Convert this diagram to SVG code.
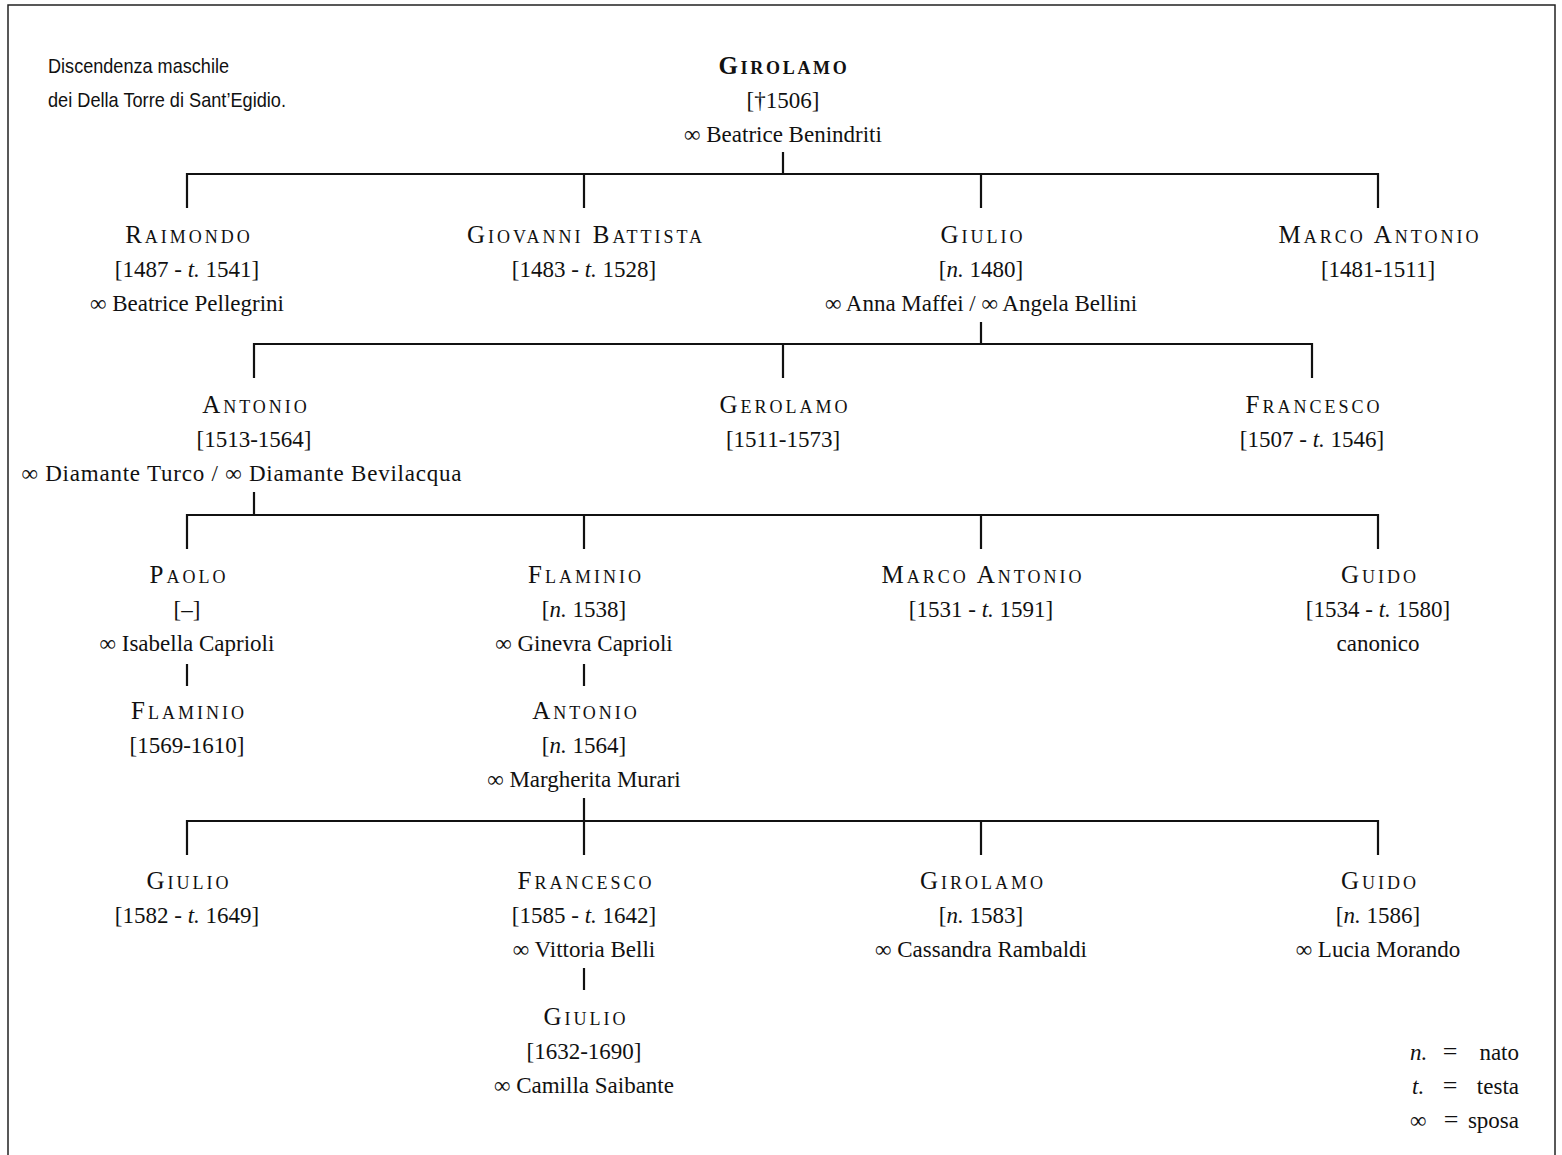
<svg xmlns="http://www.w3.org/2000/svg" width="1562" height="1155" viewBox="0 0 1562 1155">
<style>
text{font-family:"Liberation Serif","DejaVu Serif",serif;fill:#111;text-anchor:middle;font-size:23px}
.nm{font-size:25px;font-variant:small-caps;letter-spacing:3px}
.b{font-weight:bold;letter-spacing:2.7px}
.i{font-style:italic}
.sans{font-family:"Liberation Sans","DejaVu Sans",sans-serif;font-size:21px;text-anchor:start}
.ln{stroke:#111;stroke-width:2.2;fill:none}
.lg{text-anchor:start}
.lge{text-anchor:end}
.eq{font-size:26px}
</style>
<rect x="8" y="5" width="1547" height="1170" fill="#fff" stroke="#222" stroke-width="1.5"/>
<g id="caption">
<text class="sans" x="48" y="73" textLength="181" lengthAdjust="spacingAndGlyphs">Discendenza maschile</text>
<text class="sans" x="48" y="107" textLength="238" lengthAdjust="spacingAndGlyphs">dei Della Torre di Sant’Egidio.</text>
</g>
<g id="connectors" class="ln">
<path d="M783 152V174M187 208V174H1378V208M584 174V208M981 174V208"/>
<path d="M981 322V344M254 378V344H1312V378M783 344V378"/>
<path d="M254 492V515M187 549V515H1378V549M584 515V549M981 515V549"/>
<path d="M187 664V686M584 664V686"/>
<path d="M584 798V855M187 855V821H1378V855M981 821V855"/>
<path d="M584 968V990"/>
</g>
<g id="n-girolamo"><text class="nm b" x="784" y="74">Girolamo</text><text x="783" y="108">[†1506]</text><text x="783" y="142">∞ Beatrice Benindriti</text></g>
<g id="n-raimondo"><text class="nm" x="189" y="243">Raimondo</text><text x="187" y="277">[1487 - <tspan class="i">t.</tspan> 1541]</text><text x="187" y="311">∞ Beatrice Pellegrini</text></g>
<g id="n-giovanni"><text class="nm" x="586" y="243">Giovanni Battista</text><text x="584" y="277">[1483 - <tspan class="i">t.</tspan> 1528]</text></g>
<g id="n-giulio1"><text class="nm" x="983" y="243">Giulio</text><text x="981" y="277">[<tspan class="i">n.</tspan> 1480]</text><text x="981" y="311">∞ Anna Maffei / ∞ Angela Bellini</text></g>
<g id="n-marcoantonio1"><text class="nm" x="1380" y="243">Marco Antonio</text><text x="1378" y="277">[1481-1511]</text></g>
<g id="n-antonio1"><text class="nm" x="256" y="413">Antonio</text><text x="254" y="447">[1513-1564]</text><text x="241.5" y="481" textLength="440">∞ Diamante Turco / ∞ Diamante Bevilacqua</text></g>
<g id="n-gerolamo"><text class="nm" x="785" y="413">Gerolamo</text><text x="783" y="447">[1511-1573]</text></g>
<g id="n-francesco1"><text class="nm" x="1314" y="413">Francesco</text><text x="1312" y="447">[1507 - <tspan class="i">t.</tspan> 1546]</text></g>
<g id="n-paolo"><text class="nm" x="189" y="583">Paolo</text><text x="187" y="617">[–]</text><text x="187" y="651">∞ Isabella Caprioli</text></g>
<g id="n-flaminio1"><text class="nm" x="586" y="583">Flaminio</text><text x="584" y="617">[<tspan class="i">n.</tspan> 1538]</text><text x="584" y="651">∞ Ginevra Caprioli</text></g>
<g id="n-marcoantonio2"><text class="nm" x="983" y="583">Marco Antonio</text><text x="981" y="617">[1531 - <tspan class="i">t.</tspan> 1591]</text></g>
<g id="n-guido1"><text class="nm" x="1380" y="583">Guido</text><text x="1378" y="617">[1534 - <tspan class="i">t.</tspan> 1580]</text><text x="1378" y="651">canonico</text></g>
<g id="n-flaminio2"><text class="nm" x="189" y="719">Flaminio</text><text x="187" y="753">[1569-1610]</text></g>
<g id="n-antonio2"><text class="nm" x="586" y="719">Antonio</text><text x="584" y="753">[<tspan class="i">n.</tspan> 1564]</text><text x="584" y="787">∞ Margherita Murari</text></g>
<g id="n-giulio2"><text class="nm" x="189" y="889">Giulio</text><text x="187" y="923">[1582 - <tspan class="i">t.</tspan> 1649]</text></g>
<g id="n-francesco2"><text class="nm" x="586" y="889">Francesco</text><text x="584" y="923">[1585 - <tspan class="i">t.</tspan> 1642]</text><text x="584" y="957">∞ Vittoria Belli</text></g>
<g id="n-girolamo2"><text class="nm" x="983" y="889">Girolamo</text><text x="981" y="923">[<tspan class="i">n.</tspan> 1583]</text><text x="981" y="957">∞ Cassandra Rambaldi</text></g>
<g id="n-guido2"><text class="nm" x="1380" y="889">Guido</text><text x="1378" y="923">[<tspan class="i">n.</tspan> 1586]</text><text x="1378" y="957">∞ Lucia Morando</text></g>
<g id="n-giulio3"><text class="nm" x="586" y="1025">Giulio</text><text x="584" y="1059">[1632-1690]</text><text x="584" y="1093">∞ Camilla Saibante</text></g>
<g id="legend">
<text class="lg i" x="1410" y="1060">n.</text><text class="eq" x="1450" y="1060">=</text><text class="lge" x="1519" y="1060">nato</text>
<text class="lg i" x="1412" y="1094">t.</text><text class="eq" x="1450" y="1094">=</text><text class="lge" x="1519" y="1094">testa</text>
<text class="lg" x="1410" y="1128">∞</text><text class="eq" x="1451" y="1128">=</text><text class="lge" x="1519" y="1128">sposa</text>
</g>
</svg>
